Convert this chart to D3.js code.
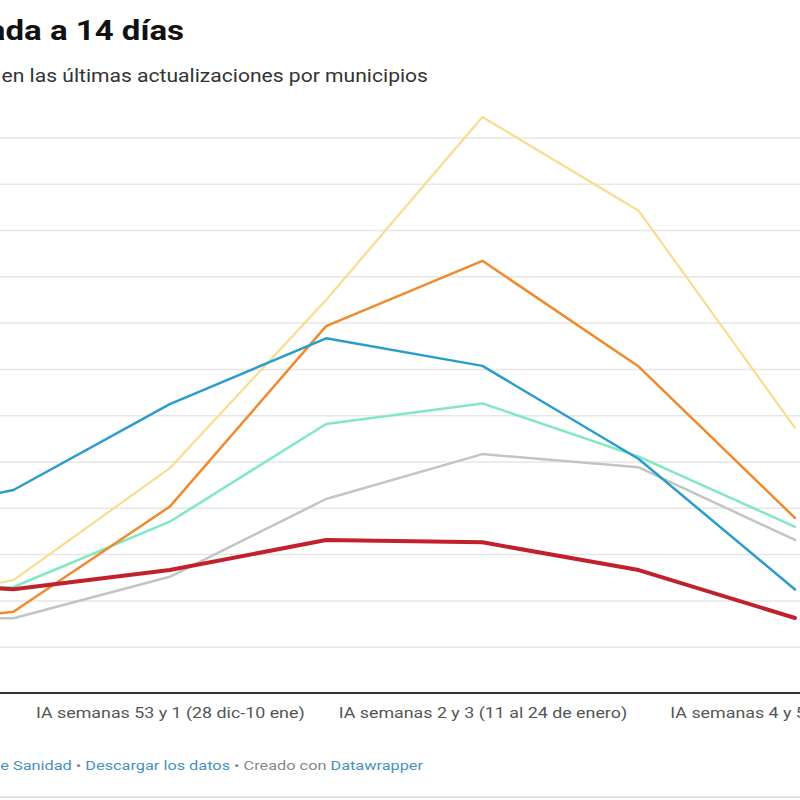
<!DOCTYPE html>
<html>
<head>
<meta charset="utf-8">
<script src="https://cdn.jsdelivr.net/npm/d3@7"></script>
<style>
  html, body { margin: 0; padding: 0; background: #fff; overflow: hidden; }
  svg { display: block; font-family: Roboto, "Noto Sans", sans-serif; }
</style>
</head>
<body>
<svg id="chart" width="800" height="800"></svg>
<script>
// ---- data ----
const categories = [
  "IA semanas 52 y 53 (21 dic-3 ene)",
  "IA semanas 53 y 1 (28 dic-10 ene)",
  "IA semanas 1 y 2 (4-17 ene)",
  "IA semanas 2 y 3 (11 al 24 de enero)",
  "IA semanas 3 y 4 (18-31 ene)",
  "IA semanas 4 y 5 (25 ene-7 feb)"
];
const prevCategory = "IA semanas 51 y 52 (14-27 dic)";
const allCategories = [prevCategory].concat(categories);

const seriesNames = ["Municipio 1", "Municipio 2", "Municipio 3", "Municipio 4", "Municipio 5", "Municipio 6"];
const greyValues   = [320, 323, 502, 838, 1032, 975, 661];
const mintValues   = [445, 458, 740, 1162, 1251, 1021, 718];
const yellowValues = [352, 488, 971, 1698, 2488, 2083, 1145];
const orangeValues = [281, 351, 805, 1585, 1867, 1410, 756];
const blueValues   = [739, 877, 1248, 1532, 1413, 1011, 447];
const redValues    = [490, 448, 531, 661, 651, 531, 324];

const yTicks = [200, 400, 600, 800, 1000, 1200, 1400, 1600, 1800, 2000, 2200, 2400];
const xTickLabels = ["IA semanas 51 y 52 (14-27 dic)", "IA semanas 53 y 1 (28 dic-10 ene)",
                     "IA semanas 2 y 3 (11 al 24 de enero)", "IA semanas 4 y 5 (25 ene-7 feb)"];

const titleText = "Incidencia acumulada a 14 días";
const subtitleText = "Evolución de la incidencia en las últimas actualizaciones por municipios";

// ---- build ----
const series = [
  { name: seriesNames[0], values: greyValues,   color: "#c4c4c4", width: 2.5 },
  { name: seriesNames[1], values: mintValues,   color: "#80e8c2", width: 2.5 },
  { name: seriesNames[2], values: yellowValues, color: "#f8dc92", width: 2.2 },
  { name: seriesNames[3], values: orangeValues, color: "#f08a2c", width: 2.5 },
  { name: seriesNames[4], values: blueValues,   color: "#2b9ccb", width: 2.5 },
  { name: seriesNames[5], values: redValues,    color: "#c1212c", width: 4 }
];

const stretch = 1.19; // reference glyphs are wider than tall

const svg = d3.select("#chart");

const x = d3.scalePoint().domain(allCategories).range([-142.8, 795]);
const y = d3.scaleLinear().domain([0, 2400]).range([693, 137.4]);

// title / subtitle (chart is cropped on the left)
svg.append("text")
  .attr("transform", "translate(184,40) scale(1.2,1)")
  .attr("text-anchor", "end")
  .attr("font-size", 27.5).attr("font-weight", 700).attr("fill", "#111")
  .text(titleText);

svg.append("text")
  .attr("transform", "translate(428,82) scale(1.14,1)")
  .attr("text-anchor", "end")
  .attr("font-size", 18.5).attr("fill", "#333")
  .text(subtitleText);

// gridlines
svg.append("g")
  .attr("transform", "translate(-200,0)")
  .call(d3.axisLeft(y).tickValues(yTicks).tickSize(-1020).tickFormat(""))
  .call(g => g.select(".domain").remove())
  .call(g => g.selectAll(".tick line").attr("stroke", "#e6e6e6").attr("stroke-width", 1.5));

// lines
const line = d3.line()
  .x((d, i) => x(allCategories[i]))
  .y(d => y(d))
  .curve(d3.curveLinear);

svg.append("g").selectAll("path")
  .data(series)
  .join("path")
  .attr("d", s => line(s.values))
  .attr("fill", "none")
  .attr("stroke", s => s.color)
  .attr("stroke-width", s => s.width)
  .attr("stroke-linejoin", "round")
  .attr("stroke-linecap", "round");

// x axis baseline + labels
svg.append("g")
  .attr("transform", `translate(0,${y(0)})`)
  .call(d3.axisBottom(x).tickValues(allCategories.filter(c => xTickLabels.includes(c))).tickSize(0).tickPadding(14))
  .call(g => g.select(".domain").attr("d", "M-200,0H1000").attr("stroke", "#333").attr("stroke-width", 2))
  .call(g => g.selectAll(".tick text")
    .attr("fill", "#555").attr("font-size", 15).attr("font-family", "Roboto, sans-serif")
    .attr("transform", `scale(${stretch},1)`));

// footer
const footer = svg.append("text")
  .attr("transform", `translate(423,770) scale(${stretch},1)`)
  .attr("text-anchor", "end")
  .attr("font-size", 13.7);
footer.append("tspan").attr("fill", "#888").text("Fuente: ");
footer.append("tspan").attr("fill", "#4592c2").text("Consejería de Sanidad");
footer.append("tspan").attr("fill", "#888").text(" • ");
footer.append("tspan").attr("fill", "#4592c2").text("Descargar los datos");
footer.append("tspan").attr("fill", "#888").text(" • Creado con ");
footer.append("tspan").attr("fill", "#4592c2").text("Datawrapper");

// bottom divider
svg.append("line")
  .attr("x1", 0).attr("x2", 800).attr("y1", 797).attr("y2", 797)
  .attr("stroke", "#e2e2e2").attr("stroke-width", 2);
</script>
</body>
</html>
